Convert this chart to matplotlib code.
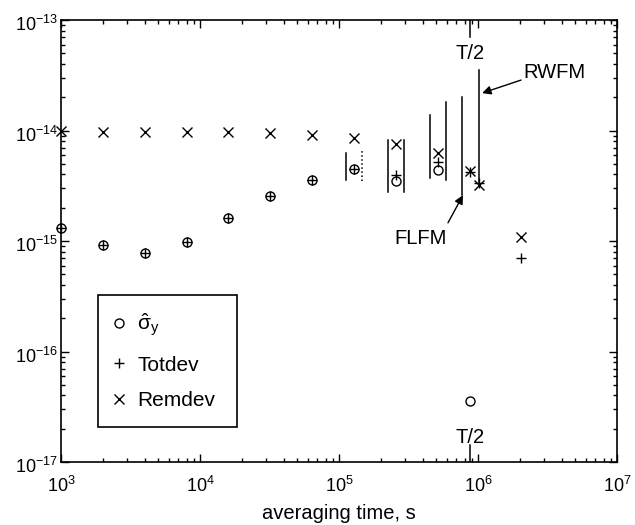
import numpy as np
import matplotlib
matplotlib.use("Agg")
import matplotlib.pyplot as plt
import matplotlib.transforms as mtransforms
from matplotlib.ticker import LogLocator, LogFormatterMathtext, NullFormatter, FixedLocator

plt.rcParams['font.family'] = ['Liberation Sans', 'DejaVu Sans']
plt.rcParams['mathtext.fontset'] = 'custom'
plt.rcParams['mathtext.rm'] = 'Liberation Sans'
plt.rcParams['mathtext.it'] = 'Liberation Sans'
plt.rcParams['mathtext.sf'] = 'Liberation Sans'

# ---- data ----
tau = [1e3, 2e3, 4e3, 8e3, 1.6e4, 3.2e4, 6.4e4, 1.28e5, 2.56e5, 5.12e5, 8.8e5, 1.024e6, 2.048e6]
sigma_hat = [1.31e-15, 9.2e-16, 7.8e-16, 9.8e-16, 1.61e-15, 2.55e-15, 3.56e-15, 4.5e-15,
             3.5e-15, 4.4e-15, 3.6e-17, np.nan, np.nan]
totdev = [1.31e-15, 9.2e-16, 7.8e-16, 9.8e-16, 1.61e-15, 2.55e-15, 3.56e-15, 4.5e-15,
          3.96e-15, 5.2e-15, 4.2e-15, 3.35e-15, 7.0e-16]
remdev = [1.0e-14, 9.75e-15, 9.75e-15, 9.7e-15, 9.7e-15, 9.5e-15, 9.1e-15, 8.55e-15,
          7.5e-15, 6.2e-15, 4.3e-15, 3.2e-15, 1.09e-15]

# confidence-interval bars
bar_tau = [1.28e5, 1.28e5, 2.56e5, 2.56e5, 5.12e5, 5.12e5, 8.8e5, 1.024e6]
bar_lo = [3.56e-15, 3.49e-15, 2.77e-15, 2.77e-15, 3.72e-15, 3.56e-15, 2.6e-15, 3.35e-15]
bar_hi = [6.25e-15, 6.5e-15, 8.2e-15, 8.2e-15, 1.38e-14, 1.81e-14, 2.01e-14, 3.53e-14]
bar_side = [-1, 1, -1, 1, -1, 1, -1, 0]
bar_style = ['-', ':', '-', '-', '-', '-', '-', '-']

T_half = 8.8e5
x_ticks = [1e3, 1e4, 1e5, 1e6, 1e7]
y_ticks = [1e-17, 1e-16, 1e-15, 1e-14, 1e-13]
legend_labels = [r'$\hat{\sigma}_{y}$', 'Totdev', 'Remdev']

# ---- figure ----
fig = plt.figure(figsize=(6.35, 5.25), dpi=100)
ax = fig.add_axes([61/635, 1-462/525, 556/635, 442/525])
ax.set_xscale('log')
ax.set_yscale('log')
ax.set_xlim(1e3, 1e7)
ax.set_ylim(1e-17, 1e-13)

ms = 6.5
h1, = ax.plot(tau, sigma_hat, 'o', mfc='none', mec='k', ms=ms, mew=1.0, clip_on=False)
h2, = ax.plot(tau, totdev, '+', color='k', ms=ms+1, mew=1.0, clip_on=False)
h3, = ax.plot(tau, remdev, 'x', color='k', ms=ms, mew=1.0, clip_on=False)

off = 10 ** 0.0576
for t, lo, hi, s, ls in zip(bar_tau, bar_lo, bar_hi, bar_side, bar_style):
    ax.plot([t * off ** s] * 2, [lo, hi], color='k', lw=1.1, ls=ls)

tfs = 14.5
# T/2 ticks
ax.plot([T_half, T_half], [1e-13, 10 ** (-13 - 17/110.5)], color='k', lw=1.1)
ax.plot([T_half, T_half], [1e-17, 10 ** (-17 + 17/110.5)], color='k', lw=1.1)
ax.text(T_half, 5.0e-14, 'T/2', ha='center', va='center', fontsize=tfs)
ax.text(T_half, 1.68e-17, 'T/2', ha='center', va='center', fontsize=tfs)

arrow = dict(arrowstyle='-|>', color='k', lw=1, mutation_scale=13, shrinkA=0, shrinkB=0)
ax.text(2.11e6, 3.38e-14, 'RWFM', ha='left', va='center', fontsize=tfs)
ax.annotate('', xy=(1.07e6, 2.18e-14), xytext=(2.04e6, 2.86e-14), arrowprops=arrow)
ax.text(3.89e5, 1.06e-15, 'FLFM', ha='center', va='center', fontsize=tfs)
ax.annotate('', xy=(7.8e5, 2.6e-15), xytext=(6.08e5, 1.46e-15), arrowprops=arrow)

ax.xaxis.set_major_locator(FixedLocator(x_ticks))
ax.yaxis.set_major_locator(FixedLocator(y_ticks))
ax.xaxis.set_minor_locator(LogLocator(base=10, subs=np.arange(2, 10), numticks=20))
ax.yaxis.set_minor_locator(LogLocator(base=10, subs=np.arange(2, 10), numticks=20))
ax.xaxis.set_major_formatter(LogFormatterMathtext())
ax.yaxis.set_major_formatter(LogFormatterMathtext())
ax.xaxis.set_minor_formatter(NullFormatter())
ax.yaxis.set_minor_formatter(NullFormatter())
ax.tick_params(which='both', direction='in', top=True, right=True, labelsize=13, width=1)
ax.tick_params(which='major', length=6)
ax.tick_params(which='minor', length=3)
ax.tick_params(axis='x', which='major', pad=10)
ax.tick_params(axis='y', which='major', pad=2)
for sp in ax.spines.values():
    sp.set_linewidth(1.2)

shift = mtransforms.ScaledTranslation(0, -3/100, fig.dpi_scale_trans)
for lab in ax.get_yticklabels():
    lab.set_transform(lab.get_transform() + shift)

ax.set_xlabel('averaging time, s', fontsize=tfs, labelpad=5.5)

leg = ax.legend([h1, h2, h3], legend_labels, loc='lower left',
                bbox_to_anchor=(0.0665, 0.079, 0.25, 0.3), mode='expand',
                borderaxespad=0, fontsize=15,
                frameon=True, fancybox=False, edgecolor='k', framealpha=1,
                handlelength=0.4, handletextpad=0.68, labelspacing=0.8,
                borderpad=0.8)
leg.get_frame().set_linewidth(1.2)

fig.savefig('out.png', dpi=100)
